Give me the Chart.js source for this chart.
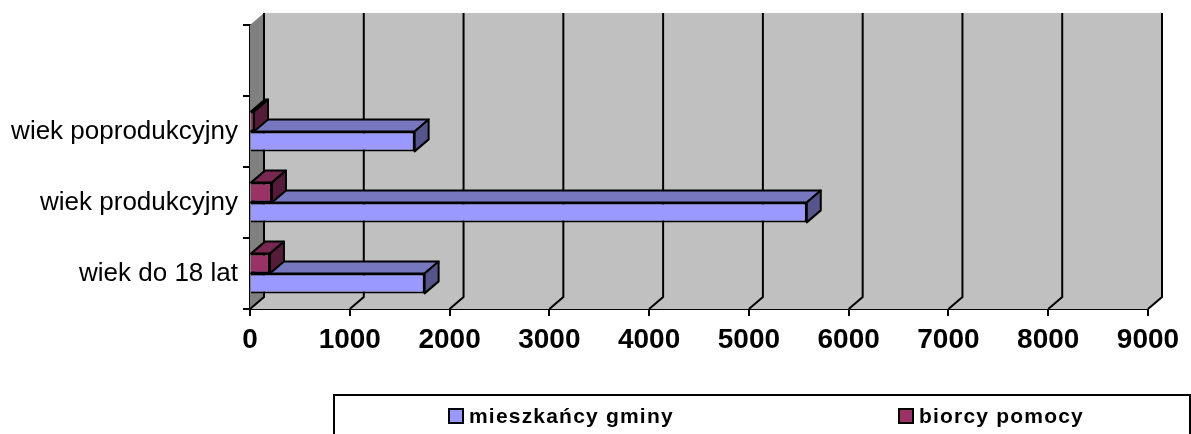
<!DOCTYPE html>
<html>
<head>
<meta charset="utf-8">
<style>
  html, body { margin: 0; padding: 0; background: #fff; overflow: hidden; }
  canvas { display: block; }
</style>
<script src="https://cdn.jsdelivr.net/npm/chart.js@4/dist/chart.umd.min.js"></script>
</head>
<body>
<canvas id="chart" width="1191" height="434"></canvas>
<script>
const categories = ['wiek do 18 lat', 'wiek produkcyjny', 'wiek poprodukcyjny', ''];
const mieszkancy = [1750, 5580, 1650, null];
const biorcy = [200, 220, 40, null];
const seriesNames = ['mieszkańcy gminy', 'biorcy pomocy'];
const xTicks = [0, 1000, 2000, 3000, 4000, 5000, 6000, 7000, 8000, 9000];

const depthX = 14;
const depthY = 12;
const blue = { front: '#9999ff', top: '#7777bf', side: '#55558c' };
const maroon = { front: '#993366', top: '#772850', side: '#551c39' };

function poly(c, pts, fill, stroke) {
  c.beginPath();
  pts.forEach((p, i) => i ? c.lineTo(p[0], p[1]) : c.moveTo(p[0], p[1]));
  c.closePath();
  if (fill) { c.fillStyle = fill; c.fill(); }
  if (stroke) { c.strokeStyle = '#000'; c.lineWidth = 2; c.lineJoin = 'round'; c.stroke(); }
}

// the 3d box: walls and floor behind the scales, sides of the bars
const walls = {
  id: 'walls',
  beforeDatasetsDraw(chart) {
    const c = chart.ctx;
    const a = chart.chartArea;
    c.save();
    poly(c, [[a.left, a.top], [a.left + depthX, a.top - depthY], [a.left + depthX, a.bottom - depthY], [a.left, a.bottom]], '#808080');
    poly(c, [[a.left + depthX, a.top - depthY], [a.right + depthX, a.top - depthY], [a.right + depthX, a.bottom - depthY], [a.right, a.bottom], [a.left, a.bottom], [a.left + depthX, a.bottom - depthY]], '#c0c0c0');
    c.strokeStyle = '#000';
    c.lineWidth = 2;
    xTicks.forEach(v => {
      const x = chart.scales.x.getPixelForValue(v);
      c.beginPath();
      c.moveTo(x + depthX, a.top - depthY);
      c.lineTo(x + depthX, a.bottom - depthY);
      c.lineTo(x, a.bottom);
      c.stroke();
    });
    // bar tops and ends, blue first so the maroon sits on it
    [1, 0].forEach(d => {
      const ds = chart.data.datasets[d];
      const col = d === 1 ? blue : maroon;
      chart.getDatasetMeta(d).data.forEach((bar, i) => {
        if (ds.data[i] === null) return;
        const t = bar.y - bar.height / 2;
        const b = bar.y + bar.height / 2;
        poly(c, [[bar.base, t], [bar.base + depthX, t - depthY], [bar.x + depthX, t - depthY], [bar.x, t]], col.top, true);
        poly(c, [[bar.x, t], [bar.x + depthX, t - depthY], [bar.x + depthX, b - depthY], [bar.x, b]], col.side, true);
      });
    });
    c.restore();
  },
  afterDraw(chart) {
    const c = chart.ctx;
    c.save();
    c.strokeStyle = '#000';
    c.lineWidth = 2;
    c.strokeRect(334, 395, 856, 60);
    c.font = 'bold 21px "Liberation Sans"';
    c.letterSpacing = '1.2px';
    c.textBaseline = 'middle';
    c.textAlign = 'left';
    [[449, blue], [899, maroon]].forEach(([x, col], i) => {
      c.fillStyle = col.front;
      c.fillRect(x, 409, 14, 14);
      c.strokeRect(x, 409, 14, 14);
      c.fillStyle = '#000';
      c.fillText(seriesNames[i], x + 20, 417);
    });
    c.restore();
  }
};

new Chart(document.getElementById('chart'), {
  type: 'bar',
  data: {
    labels: categories,
    datasets: [
      { label: seriesNames[1], data: biorcy, backgroundColor: maroon.front },
      { label: seriesNames[0], data: mieszkancy, backgroundColor: blue.front }
    ]
  },
  options: {
    indexAxis: 'y',
    responsive: false,
    animation: false,
    layout: { padding: { top: 25, right: 43, left: 0, bottom: 0 } },
    datasets: {
      bar: {
        borderColor: '#000',
        borderWidth: 2,
        borderSkipped: 'start',
        categoryPercentage: 0.56,
        barPercentage: 1
      }
    },
    plugins: { legend: { display: false }, tooltip: { enabled: false } },
    scales: {
      x: {
        type: 'linear',
        min: 0,
        max: 9000,
        afterBuildTicks(s) { s.ticks = xTicks.map(v => ({ value: v })); },
        afterFit(s) { s.height = 125; },
        border: { color: '#000', width: 2 },
        grid: { drawOnChartArea: false, drawTicks: true, tickLength: 7, color: '#000', lineWidth: 2 },
        ticks: { color: '#000', padding: 7, maxRotation: 0, callback: v => String(v), font: { family: 'Liberation Sans', size: 28, weight: 'bold' } }
      },
      y: {
        reverse: true,
        afterFit(s) { s.width = 250; },
        border: { color: '#000', width: 2 },
        grid: { drawOnChartArea: false, drawTicks: true, tickLength: 7, color: '#000', lineWidth: 2 },
        ticks: { color: '#000', padding: 5, autoSkip: false, font: { family: 'Liberation Sans', size: 26 } }
      }
    }
  },
  plugins: [walls]
});
</script>
</body>
</html>
